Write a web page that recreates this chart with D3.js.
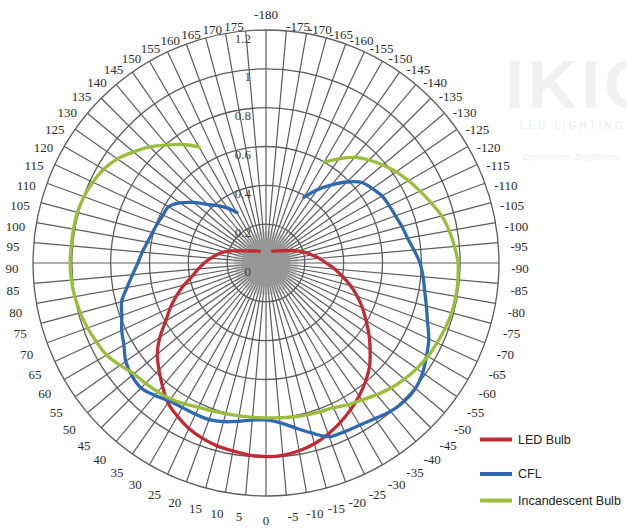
<!DOCTYPE html>
<html>
<head>
<meta charset="utf-8">
<script src="https://cdn.jsdelivr.net/npm/d3@7"></script>
<style>
  html, body { margin: 0; padding: 0; background: #fff; }
  svg { display: block; }
</style>
</head>
<body>
<svg id="chart" width="627" height="528"></svg>
<script>
// Spoke angles (degrees), one every 5°, -180 at the top, running clockwise
const spokeAngles = d3.range(-180, 180, 5);
const spokeLabels = spokeAngles.map(a => String(a));

// Radial axis
const radialTicks = [0, 0.2, 0.4, 0.6, 0.8, 1, 1.2];
const radialTickLabels = ["0", "0.2", "0.4", "0.6", "0.8", "1", "1.2"];

// Measured angles for every series
const sampleAngles = [
  -150, -145, -140, -135, -130, -125, -120, -115, -110, -105,
  -100, -95, -90, -85, -80, -75, -70, -65, -60, -55,
  -50, -45, -40, -35, -30, -25, -20, -15, -10, -5,
  0, 5, 10, 15, 20, 25, 30, 35, 40, 45,
  50, 55, 60, 65, 70, 75, 80, 85, 90, 95,
  100, 105, 110, 115, 120, 125, 130, 135, 140, 145, 150
];

// Relative luminous intensity
const ledValues = [
  0.07, 0.075, 0.081, 0.088, 0.097, 0.11, 0.127, 0.15, 0.18, 0.21,
  0.24, 0.275, 0.31, 0.355, 0.40, 0.45, 0.50, 0.548, 0.595, 0.648,
  0.70, 0.754, 0.797, 0.836, 0.872, 0.906, 0.937, 0.964, 0.982, 0.994,
  0.997, 0.993, 0.983, 0.975, 0.96, 0.94, 0.912, 0.88, 0.829, 0.779,
  0.731, 0.667, 0.596, 0.543, 0.49, 0.437, 0.385, 0.35, 0.318, 0.285,
  0.255, 0.222, 0.182, 0.148, 0.124, 0.108, 0.096, 0.087, 0.081, 0.075, 0.07
];
const cflValues = [
  0.39, 0.46, 0.525, 0.59, 0.645, 0.668, 0.69, 0.70, 0.71, 0.725,
  0.74, 0.765, 0.793, 0.812, 0.83, 0.855, 0.885, 0.925, 0.955, 0.985,
  1.005, 1.008, 0.998, 0.978, 0.965, 0.958, 0.952, 0.906, 0.862, 0.825,
  0.808, 0.812, 0.828, 0.846, 0.858, 0.859, 0.86, 0.868, 0.89, 0.91,
  0.902, 0.882, 0.845, 0.82, 0.79, 0.77, 0.727, 0.69, 0.66, 0.64,
  0.62, 0.605, 0.595, 0.585, 0.58, 0.54, 0.485, 0.427, 0.385, 0.345, 0.30
];
const incandescentValues = [
  0.60, 0.655, 0.71, 0.75, 0.785, 0.818, 0.848, 0.876, 0.905, 0.937,
  0.958, 0.975, 0.989, 0.992, 0.993, 0.99, 0.982, 0.972, 0.962, 0.948,
  0.93, 0.91, 0.885, 0.862, 0.843, 0.822, 0.815, 0.81, 0.805, 0.80,
  0.798, 0.798, 0.80, 0.803, 0.81, 0.82, 0.838, 0.855, 0.866, 0.877,
  0.888, 0.918, 0.948, 0.963, 0.978, 0.99, 1.0, 1.006, 1.009, 1.007,
  1.007, 1.006, 0.998, 0.985, 0.965, 0.935, 0.89, 0.845, 0.793, 0.745, 0.69
];

const seriesNames = ["LED Bulb", "CFL", "Incandescent Bulb"];
const seriesColors = ["#c22b34", "#2f69b1", "#9bbd3c"];
const seriesValues = [ledValues, cflValues, incandescentValues];

// ---- layout ----
const cx = 266, cy = 263, R = 233;
const svg = d3.select("#chart");

const angle = d3.scaleLinear().domain([-180, 180]).range([0, 2 * Math.PI]);
const radius = d3.scaleLinear().domain([0, 1.2]).range([0, R]);

// faint company watermark
const wm = svg.append("g").attr("fill", "#f1f1f1");
wm.append("text").attr("x", 505).attr("y", 108)
  .attr("font-family", "Liberation Sans, Arial, sans-serif")
  .attr("font-weight", "bold").attr("font-size", 68).attr("letter-spacing", 4)
  .text("IKIO");
wm.append("text").attr("x", 520).attr("y", 129)
  .attr("font-family", "Liberation Sans, Arial, sans-serif")
  .attr("font-size", 10).attr("letter-spacing", 3).attr("fill", "#ebebeb")
  .text("LED LIGHTING");
wm.append("text").attr("x", 522).attr("y", 160)
  .attr("font-family", "Liberation Sans, Arial, sans-serif")
  .attr("font-style", "italic").attr("font-size", 9.5).attr("fill", "#eeeeee")
  .text("Experience. Brightness");

const g = svg.append("g").attr("transform", `translate(${cx},${cy})`);

// spokes
g.append("g")
  .selectAll("line")
  .data(spokeAngles)
  .join("line")
  .attr("x1", 0).attr("y1", 0)
  .attr("x2", d => d3.pointRadial(angle(d), R)[0])
  .attr("y2", d => d3.pointRadial(angle(d), R)[1])
  .attr("stroke", "#5c5c5c")
  .attr("stroke-width", 1.2);

// concentric rings
g.append("g")
  .selectAll("circle")
  .data(radialTicks.slice(1))
  .join("circle")
  .attr("r", d => radius(d))
  .attr("fill", "none")
  .attr("stroke", "#5c5c5c")
  .attr("stroke-width", 1.3);

// dense hub where the spokes converge
g.append("circle")
  .attr("r", radius(0.125))
  .attr("fill", "#959595");
g.append("circle")
  .attr("r", radius(0.165))
  .attr("fill", "#9a9a9a")
  .attr("fill-opacity", 0.45);

// radial tick labels along the upward spoke
g.append("g")
  .selectAll("text")
  .data(radialTicks)
  .join("text")
  .attr("x", -15)
  .attr("y", d => -radius(d) + 8)
  .attr("dy", "0.35em")
  .attr("text-anchor", "end")
  .attr("font-family", "Liberation Serif, 'DejaVu Serif', serif")
  .attr("font-size", 13)
  .attr("fill", "#444")
  .text((d, i) => radialTickLabels[i]);

// series curves
const line = d3.lineRadial()
  .angle(d => angle(d.a))
  .radius(d => radius(d.v))
  .curve(d3.curveCatmullRom.alpha(0.5));

seriesValues.forEach((vals, i) => {
  const pts = sampleAngles.map((a, k) => ({ a, v: vals[k] }));
  g.append("path")
    .datum(pts)
    .attr("d", line)
    .attr("fill", "none")
    .attr("stroke", seriesColors[i])
    .attr("stroke-width", 3.3)
    .attr("stroke-linejoin", "round")
    .attr("stroke-linecap", "round");
});

// angle labels around the rim
const labelR = 254;
function labelPos(deg) {
  const t = deg * Math.PI / 180;
  const s = Math.sin(t), c = Math.cos(t);
  const up = Math.max(0, -c), down = Math.max(0, c);
  const sg = Math.abs(s) < 1e-9 ? 0 : Math.sign(s);
  const dx = -sg * (10 * up * up + 5 * down * down);
  const dy = c <= 0
    ? 5 + 12 * up * Math.min(1, Math.abs(s) * 12)
    : 5 * s * s + 3.5 * Math.max(0, 1 - Math.abs(s) * 12);
  return [-labelR * s + dx, labelR * c + dy];
}

g.append("g")
  .selectAll("text")
  .data(spokeAngles)
  .join("text")
  .attr("x", d => labelPos(d)[0])
  .attr("y", d => labelPos(d)[1])
  .attr("dy", "0.35em")
  .attr("text-anchor", "middle")
  .attr("font-family", "Liberation Serif, 'DejaVu Serif', serif")
  .attr("font-size", 13)
  .attr("fill", "#2b2b2b")
  .text((d, i) => spokeLabels[i]);

// legend
const legendY = [439.5, 474, 500.5];
const legend = svg.append("g");
seriesNames.forEach((name, i) => {
  legend.append("line")
    .attr("x1", 480).attr("x2", 512)
    .attr("y1", legendY[i]).attr("y2", legendY[i])
    .attr("stroke", seriesColors[i])
    .attr("stroke-width", 4);
  legend.append("text")
    .attr("x", 518).attr("y", legendY[i])
    .attr("dy", "0.35em")
    .attr("font-family", "Liberation Sans, Arial, sans-serif")
    .attr("font-size", 12.5)
    .attr("fill", "#222")
    .text(name);
});
</script>
</body>
</html>
